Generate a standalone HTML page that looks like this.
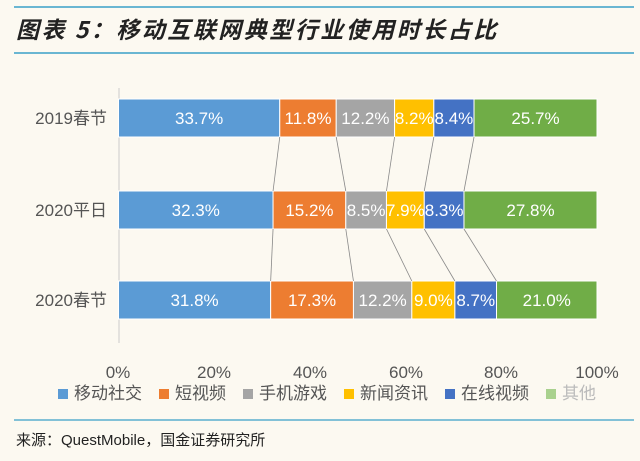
<!DOCTYPE html>
<html><head><meta charset="utf-8"><style>
body{margin:0;background:#fcf9f1;}
svg{display:block;font-family:"Liberation Sans","Noto Sans CJK SC",sans-serif;}
</style></head><body>
<svg width="640" height="461" viewBox="0 0 640 461">
<rect width="640" height="461" fill="#fcf9f1"/>
<line x1="14" y1="7" x2="634" y2="7" stroke="#3aa0c8" stroke-width="1.5"/>
<line x1="14" y1="53" x2="634" y2="53" stroke="#3aa0c8" stroke-width="1.5"/>
<text x="16" y="38" font-size="23" letter-spacing="2.5" font-style="italic" font-weight="bold" fill="#222" font-family="'Noto Sans CJK SC',sans-serif">图表 5：移动互联网典型行业使用时长占比</text>
<line x1="119" y1="88" x2="119" y2="343" stroke="#ccc" stroke-width="1"/>
<g id="bars"></g>
<g font-size="17" fill="#555" text-anchor="middle">
<text x="118" y="378">0%</text><text x="214" y="378">20%</text><text x="310" y="378">40%</text><text x="406" y="378">60%</text><text x="501" y="378">80%</text><text x="597" y="378">100%</text>
</g>
<g font-size="17" fill="#555" text-anchor="end" font-family="'Liberation Sans','Noto Sans CJK SC',sans-serif">
<text x="107" y="124">2019春节</text><text x="107" y="216">2020平日</text><text x="107" y="306">2020春节</text>
</g>
<g font-size="17" fill="#555" font-family="'Noto Sans CJK SC',sans-serif">
<rect x="58" y="389" width="10" height="10" fill="#5b9bd5"/><text x="74" y="399">移动社交</text>
<rect x="159" y="389" width="10" height="10" fill="#ed7d31"/><text x="175" y="399">短视频</text>
<rect x="243" y="389" width="10" height="10" fill="#a5a5a5"/><text x="259" y="399">手机游戏</text>
<rect x="344" y="389" width="10" height="10" fill="#ffc000"/><text x="360" y="399">新闻资讯</text>
<rect x="445" y="389" width="10" height="10" fill="#4472c4"/><text x="461" y="399">在线视频</text>
<rect x="546" y="389" width="10" height="10" fill="#a9d18e"/><text x="562" y="399" fill="#bbb">其他</text>
</g>
<line x1="14" y1="420" x2="634" y2="420" stroke="#3aa0c8" stroke-width="1.2"/>
<text x="16" y="445" font-size="15" fill="#222" font-family="'Noto Sans CJK SC',sans-serif">来源：<tspan font-family="'Liberation Sans',sans-serif">QuestMobile</tspan>，国金证券研究所</text>
</svg>
<script>
var data=[[33.7,11.8,12.2,8.2,8.4,25.7],[32.3,15.2,8.5,7.9,8.3,27.8],[31.8,17.3,12.2,9.0,8.7,21.0]];
var ys=[99,191,281],h=38,x0=118.5,s=4.785;
var cols=["#5b9bd5","#ed7d31","#a5a5a5","#ffc000","#4472c4","#70ad47"];
var g=document.getElementById('bars'),out="";
var bounds=[];
data.forEach(function(r,i){var c=0,b=[];r.forEach(function(v,j){var x=x0+c*s,w=v*s;
out+='<rect x="'+x+'" y="'+ys[i]+'" width="'+w+'" height="'+h+'" fill="'+cols[j]+'" stroke="#fff" stroke-width="1"/>';
out+='<text x="'+(x+w/2)+'" y="'+(ys[i]+25)+'" font-size="17" fill="#fff" text-anchor="middle">'+v.toFixed(1)+'%</text>';
c+=v;b.push(x0+c*s);});bounds.push(b);});
for(var i=0;i<2;i++)for(var j=0;j<5;j++)out+='<line x1="'+bounds[i][j]+'" y1="'+(ys[i]+h)+'" x2="'+bounds[i+1][j]+'" y2="'+ys[i+1]+'" stroke="#888" stroke-width="0.8"/>';
g.innerHTML=out;
</script>
</body></html>
